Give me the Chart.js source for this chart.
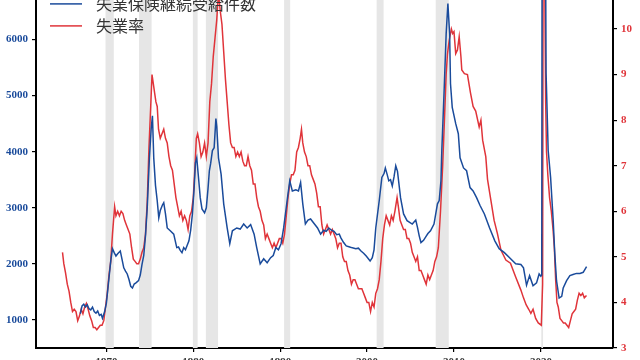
<!DOCTYPE html>
<html>
<head>
<meta charset="utf-8">
<script src="https://cdn.jsdelivr.net/npm/chart.js@4/dist/chart.umd.min.js"></script>
<style>
  html, body { margin: 0; padding: 0; background: #fff; overflow: hidden; }
  body { width: 640px; height: 360px; position: relative; }
  #wrap { position: absolute; left: 0; top: -40px; width: 640px; height: 420px; }
</style>
</head>
<body>
<div id="wrap"><canvas id="chart" width="640" height="420"></canvas></div>
<script>
// 失業率 (%), right axis
const rateDates = [
  1964.95, 1965.1, 1965.3, 1965.5, 1965.7, 1965.9, 1966.1, 1966.3, 1966.5, 1966.7, 1966.9,
  1967.1, 1967.3, 1967.5, 1967.7, 1967.9, 1968.1, 1968.3, 1968.5, 1968.7, 1968.9,
  1969.1, 1969.3, 1969.5, 1969.7, 1969.9, 1970.1, 1970.3, 1970.5, 1970.7, 1970.95,
  1971.1, 1971.3, 1971.5, 1971.7, 1971.9, 1972.1, 1972.3, 1972.5, 1972.7, 1972.9,
  1973.1, 1973.3, 1973.5, 1973.7, 1973.9, 1974.1, 1974.3, 1974.5, 1974.7, 1974.9,
  1975.1, 1975.25, 1975.4, 1975.55, 1975.7, 1975.85, 1976.0, 1976.2, 1976.4, 1976.6, 1976.8,
  1977.0, 1977.2, 1977.4, 1977.6, 1977.8, 1978.0, 1978.2, 1978.4, 1978.6, 1978.8,
  1979.0, 1979.2, 1979.4, 1979.6, 1979.8, 1980.0, 1980.2, 1980.35, 1980.5, 1980.7, 1980.9,
  1981.1, 1981.3, 1981.5, 1981.7, 1981.9, 1982.1, 1982.3, 1982.5, 1982.7, 1982.9,
  1983.1, 1983.3, 1983.5, 1983.7, 1983.9, 1984.1, 1984.3, 1984.5, 1984.7, 1984.9,
  1985.1, 1985.3, 1985.5, 1985.7, 1985.9, 1986.1, 1986.3, 1986.5, 1986.7, 1986.9,
  1987.1, 1987.3, 1987.5, 1987.7, 1987.9, 1988.1, 1988.3, 1988.5, 1988.7, 1988.9,
  1989.1, 1989.3, 1989.5, 1989.7, 1989.9, 1990.1, 1990.3, 1990.5, 1990.7, 1990.9,
  1991.1, 1991.3, 1991.5, 1991.7, 1991.9, 1992.1, 1992.3, 1992.45, 1992.6, 1992.8,
  1993.0, 1993.2, 1993.4, 1993.6, 1993.8, 1994.0, 1994.2, 1994.4, 1994.6, 1994.8,
  1995.0, 1995.2, 1995.4, 1995.6, 1995.8, 1996.0, 1996.2, 1996.4, 1996.6, 1996.8,
  1997.0, 1997.2, 1997.4, 1997.6, 1997.8, 1998.0, 1998.2, 1998.4, 1998.6, 1998.8,
  1999.0, 1999.2, 1999.4, 1999.6, 1999.8, 2000.0, 2000.2, 2000.4, 2000.6, 2000.8,
  2001.0, 2001.2, 2001.4, 2001.6, 2001.8, 2002.0, 2002.2, 2002.4, 2002.6, 2002.8,
  2003.0, 2003.2, 2003.45, 2003.6, 2003.8, 2004.0, 2004.2, 2004.4, 2004.6, 2004.8,
  2005.0, 2005.2, 2005.4, 2005.6, 2005.8, 2006.0, 2006.2, 2006.4, 2006.6, 2006.8,
  2007.0, 2007.2, 2007.4, 2007.6, 2007.8, 2008.0, 2008.2, 2008.45, 2008.7, 2008.9,
  2009.1, 2009.25, 2009.45, 2009.7, 2009.85, 2010.0, 2010.2, 2010.4, 2010.6, 2010.8,
  2010.9, 2011.2, 2011.55, 2011.9, 2012.2, 2012.5, 2012.9, 2013.1, 2013.3, 2013.66,
  2013.86, 2014.24, 2014.62, 2015.0, 2015.4, 2015.97, 2016.5, 2017.1, 2017.7, 2018.0,
  2018.3, 2018.6, 2018.85, 2019.1, 2019.4, 2019.7, 2020.05, 2020.2, 2020.28, 2020.45,
  2020.55, 2020.65, 2020.8, 2021.0, 2021.2, 2021.4, 2021.55, 2021.7, 2021.85, 2022.0,
  2022.2, 2022.4, 2022.6, 2022.8, 2023.0, 2023.2, 2023.4, 2023.6, 2023.8, 2024.0,
  2024.2, 2024.4, 2024.6, 2024.8, 2025.0, 2025.25
];
const rateValues = [
  5.1, 4.85, 4.65, 4.4, 4.25, 4.0, 3.8, 3.85, 3.8, 3.6, 3.7,
  3.85, 3.75, 3.9, 3.98, 3.85, 3.7, 3.6, 3.45, 3.45, 3.4,
  3.45, 3.5, 3.5, 3.6, 3.9, 4.2, 4.6, 4.9, 5.5, 6.1,
  5.9, 6.0, 5.9, 6.0, 5.95, 5.8, 5.7, 5.6, 5.5, 5.2,
  4.95, 4.9, 4.85, 4.85, 4.95, 5.1, 5.2, 5.5, 6.2, 7.4,
  8.3, 9.0, 8.8, 8.6, 8.4, 8.3, 7.8, 7.6, 7.7, 7.8, 7.6,
  7.5, 7.2, 7.0, 6.9, 6.6, 6.3, 6.1, 5.9, 6.0, 5.8,
  5.9, 5.8, 5.6, 5.9, 6.0, 6.3, 7.0, 7.6, 7.7, 7.5, 7.2,
  7.3, 7.5, 7.2, 7.5, 8.4, 8.8, 9.4, 9.8, 10.2, 10.8,
  10.4, 10.1, 9.5, 8.9, 8.4, 7.9, 7.5, 7.4, 7.4, 7.2,
  7.3, 7.2, 7.3, 7.1, 7.0, 7.0, 7.2, 7.0, 6.9, 6.6,
  6.6, 6.3, 6.1, 6.0, 5.8, 5.7, 5.4, 5.5, 5.4, 5.3,
  5.2, 5.3, 5.2, 5.3, 5.4, 5.4, 5.3, 5.5, 5.9, 6.3,
  6.6, 6.8, 6.8, 6.9, 7.3, 7.4, 7.6, 7.8, 7.5, 7.3,
  7.2, 7.0, 7.0, 6.8, 6.7, 6.6, 6.4, 6.1, 6.1, 5.7,
  5.5, 5.6, 5.7, 5.6, 5.5, 5.6, 5.5, 5.4, 5.2, 5.3,
  5.3, 5.0, 4.9, 4.9, 4.7, 4.6, 4.4, 4.5, 4.5, 4.4,
  4.3, 4.3, 4.3, 4.2, 4.1, 4.0, 4.0, 3.8, 4.0, 3.9,
  4.2, 4.3, 4.5, 4.9, 5.4, 5.7, 5.9, 5.8, 5.7, 5.9,
  5.8, 6.0, 6.3, 6.1, 5.8, 5.7, 5.6, 5.6, 5.4, 5.4,
  5.3, 5.1, 5.0, 4.9, 5.0, 4.7, 4.7, 4.6, 4.5, 4.4,
  4.6, 4.5, 4.6, 4.7, 4.9, 5.0, 5.2, 6.0, 7.0, 8.0,
  9.0, 9.45, 9.75, 10.0, 9.9, 9.94, 9.46, 9.54, 9.83, 9.39,
  9.1, 9.02, 9.0, 8.6, 8.3, 8.2, 7.85, 8.0, 7.56, 7.2,
  6.7, 6.25, 5.8, 5.51, 5.15, 4.93, 4.86, 4.56, 4.27, 4.1,
  3.95, 3.85, 3.76, 3.85, 3.65, 3.55, 3.5, 4.4, 14.7, 11.0,
  8.4, 7.3, 6.8, 6.3, 6.0, 5.6, 5.2, 4.5, 4.0, 3.9,
  3.65, 3.6, 3.55, 3.55, 3.5, 3.45, 3.6, 3.75, 3.8, 3.85,
  4.05, 4.2, 4.15, 4.2, 4.1, 4.15
];

// 失業保険継続受給件数 (千件), left axis
const claimDates = [
  1967.0, 1967.2, 1967.4, 1967.6, 1967.8, 1968.0, 1968.2, 1968.4, 1968.6, 1968.8,
  1969.0, 1969.2, 1969.4, 1969.55, 1969.8, 1970.0, 1970.3, 1970.5, 1970.7, 1970.9,
  1971.1, 1971.3, 1971.6, 1971.8, 1972.0, 1972.2, 1972.4, 1972.6, 1972.8, 1973.0,
  1973.2, 1973.4, 1973.7, 1973.9, 1974.1, 1974.3, 1974.5, 1974.7, 1974.95, 1975.15,
  1975.3, 1975.45, 1975.65, 1975.85, 1976.03, 1976.2, 1976.45, 1976.6, 1976.8, 1977.0,
  1977.35, 1977.75, 1978.1, 1978.3, 1978.5, 1978.7, 1978.9, 1979.1, 1979.3, 1979.5,
  1979.7, 1979.9, 1980.1, 1980.25, 1980.4, 1980.6, 1980.8, 1981.0, 1981.3, 1981.5,
  1981.7, 1981.85, 1982.0, 1982.2, 1982.4, 1982.6, 1982.7, 1982.9, 1983.2, 1983.5,
  1983.9, 1984.2, 1984.5, 1985.0, 1985.4, 1985.8, 1986.2, 1986.6, 1987.0, 1987.3,
  1987.7, 1988.1, 1988.5, 1988.9, 1989.2, 1989.5, 1989.8, 1990.1, 1990.4, 1990.8,
  1991.1, 1991.4, 1991.8, 1992.1, 1992.35, 1992.6, 1992.9, 1993.2, 1993.5, 1993.9,
  1994.3, 1994.65, 1995.0, 1995.3, 1995.6, 1995.9, 1996.2, 1996.5, 1996.8, 1997.0,
  1997.3, 1997.6, 1998.0, 1998.2, 1998.7, 1999.0, 1999.3, 1999.6, 1999.9, 2000.35,
  2000.6, 2000.8, 2001.0, 2001.4, 2001.7, 2001.95, 2002.1, 2002.3, 2002.5, 2002.7,
  2002.9, 2003.1, 2003.3, 2003.5, 2003.85, 2004.2, 2004.6, 2005.2, 2005.6, 2005.8,
  2006.0, 2006.2, 2006.5, 2006.75, 2007.0, 2007.3, 2007.7, 2008.1, 2008.3, 2008.5,
  2008.6, 2008.85, 2009.1, 2009.3, 2009.5, 2009.6, 2009.8, 2010.2, 2010.5, 2010.7,
  2011.1, 2011.45, 2011.85, 2012.2, 2012.6, 2013.0, 2013.5, 2014.1, 2014.7, 2015.2,
  2015.8, 2016.4, 2017.1, 2017.7, 2018.0, 2018.35, 2018.7, 2019.1, 2019.5, 2019.8,
  2020.0, 2020.1, 2020.25, 2020.4, 2020.5, 2020.6, 2020.84, 2021.12, 2021.42, 2021.6,
  2021.8, 2022.1, 2022.4, 2022.57, 2022.96, 2023.34, 2023.7, 2024.1, 2024.5, 2024.87,
  2025.26
];
const claimValues = [
  1110, 1250, 1280, 1230, 1270, 1200, 1180, 1230, 1150, 1120,
  1160, 1080, 1100, 1030, 1150, 1300, 1750, 2050, 2270, 2200,
  2140, 2180, 2230, 2080, 1930, 1870, 1820, 1720, 1600, 1570,
  1640, 1660, 1700, 1800, 1990, 2150, 2500, 3000, 3890, 4400,
  4640, 3890, 3400, 3125, 2820, 2950, 3050, 3090, 2890, 2640,
  2590, 2530, 2290, 2300, 2240, 2200, 2290, 2250, 2330, 2410,
  2600, 2890, 3360, 3800, 3890, 3540, 3180, 2980, 2910, 3000,
  3350, 3660, 3790, 4020, 4070, 4590, 4450, 3890, 3600, 3070,
  2640, 2360, 2590, 2640, 2620, 2710, 2640, 2700, 2530, 2290,
  2000, 2090, 2020, 2110, 2150, 2290, 2250, 2360, 2640, 3130,
  3480, 3300, 3320, 3300, 3450, 3070, 2710, 2780, 2800, 2720,
  2640, 2530, 2600, 2580, 2640, 2600, 2580, 2520, 2530, 2460,
  2380, 2320, 2300, 2290, 2270, 2280, 2230, 2190, 2140, 2050,
  2110, 2250, 2640, 3130, 3540, 3610, 3710, 3600, 3480, 3500,
  3390, 3550, 3750, 3650, 3180, 2890, 2770, 2710, 2780, 2650,
  2500, 2380, 2420, 2480, 2540, 2590, 2710, 3070, 3130, 3480,
  4020, 5020, 6100, 6640, 6100, 5210, 4790, 4500, 4320, 3890,
  3710, 3660, 3360, 3300, 3180, 3040, 2890, 2640, 2410, 2270,
  2200, 2110, 2000, 1990, 1930, 1620, 1790, 1610, 1660, 1820,
  1780, 1800, 22000, 17000, 9000, 5400, 4020, 3540, 2770, 2180,
  1700, 1390, 1420, 1570, 1700, 1790, 1810, 1830, 1830, 1850,
  1950
];

// 景気後退期 (shaded)
const recessionStart = [1969.9, 1973.75, 1979.95, 1981.45, 1990.45, 2001.1, 2007.9, 2020.05];
const recessionEnd = [1970.85, 1975.2, 1980.5, 1982.85, 1991.15, 2001.9, 2009.4, 2020.25];

const yearTicks = [1970, 1980, 1990, 2000, 2010, 2020];
const claimTicks = [1000, 2000, 3000, 4000, 5000, 6000, 7000];
const rateTicks = [3, 4, 5, 6, 7, 8, 9, 10, 11];

const blue = '#1a4b9b';
const red = '#e0343a';

function toPoints(xs, ys) {
  return xs.map((x, i) => ({ x: x, y: ys[i] }));
}

const recessionPlugin = {
  id: 'recessions',
  beforeDatasetsDraw(chart) {
    const { ctx, chartArea, scales } = chart;
    ctx.save();
    ctx.fillStyle = '#e6e6e6';
    recessionStart.forEach((s, i) => {
      const x0 = scales.x.getPixelForValue(s);
      const x1 = scales.x.getPixelForValue(recessionEnd[i]);
      ctx.fillRect(x0, chartArea.top, x1 - x0, chartArea.bottom - chartArea.top);
    });
    ctx.restore();
  }
};

// legend inside the plot, upper left
const innerLegend = {
  id: 'innerLegend',
  afterDraw(chart) {
    const { ctx, chartArea } = chart;
    ctx.save();
    ctx.font = '16px "Noto Sans CJK JP"';
    ctx.textBaseline = 'middle';
    chart.data.datasets.forEach((ds, i) => {
      const y = chartArea.top + 20.5 + i * 22;
      ctx.strokeStyle = ds.borderColor;
      ctx.lineWidth = 1.5;
      ctx.beginPath();
      ctx.moveTo(chartArea.left + 14, y);
      ctx.lineTo(chartArea.left + 46, y);
      ctx.stroke();
      ctx.fillStyle = '#333';
      ctx.fillText(ds.label, chartArea.left + 60, y);
    });
    ctx.restore();
  }
};

const tickFont = { family: '"Liberation Serif", serif', size: 11, weight: 'bold' };
const axisGrid = { drawOnChartArea: false, drawTicks: true, tickLength: 4, color: '#000', lineWidth: 1.2 };

new Chart(document.getElementById('chart'), {
  type: 'line',
  data: {
    datasets: [
      {
        label: '失業保険継続受給件数',
        data: toPoints(claimDates, claimValues),
        borderColor: blue,
        borderWidth: 1.5,
        pointRadius: 0,
        yAxisID: 'yLeft'
      },
      {
        label: '失業率',
        data: toPoints(rateDates, rateValues),
        borderColor: red,
        borderWidth: 1.5,
        pointRadius: 0,
        yAxisID: 'yRight'
      }
    ]
  },
  options: {
    responsive: false,
    animation: false,
    layout: { padding: { top: 23.4, left: 0, right: 0, bottom: 0 } },
    plugins: { legend: { display: false }, tooltip: { enabled: false } },
    scales: {
      x: {
        type: 'linear',
        min: 1961.9,
        max: 2028.3,
        afterFit(scale) { scale.height = 32; },
        afterBuildTicks(scale) { scale.ticks = yearTicks.map(v => ({ value: v })); },
        border: { color: '#000', width: 2 },
        grid: axisGrid,
        ticks: { font: tickFont, color: '#333', padding: 4, callback: v => String(v), maxRotation: 0 }
      },
      yLeft: {
        type: 'linear',
        position: 'left',
        min: 500,
        max: 7000,
        afterFit(scale) { scale.width = 36; },
        afterBuildTicks(scale) { scale.ticks = claimTicks.map(v => ({ value: v })); },
        border: { color: '#000', width: 2 },
        grid: axisGrid,
        ticks: { font: tickFont, color: blue, padding: 4, callback: v => String(v) }
      },
      yRight: {
        type: 'linear',
        position: 'right',
        min: 3,
        max: 11,
        afterFit(scale) { scale.width = 27; },
        afterBuildTicks(scale) { scale.ticks = rateTicks.map(v => ({ value: v })); },
        border: { color: '#000', width: 2 },
        grid: axisGrid,
        ticks: { font: tickFont, color: red, padding: 4, callback: v => String(v) }
      }
    }
  },
  plugins: [recessionPlugin, innerLegend]
});
</script>
</body>
</html>
